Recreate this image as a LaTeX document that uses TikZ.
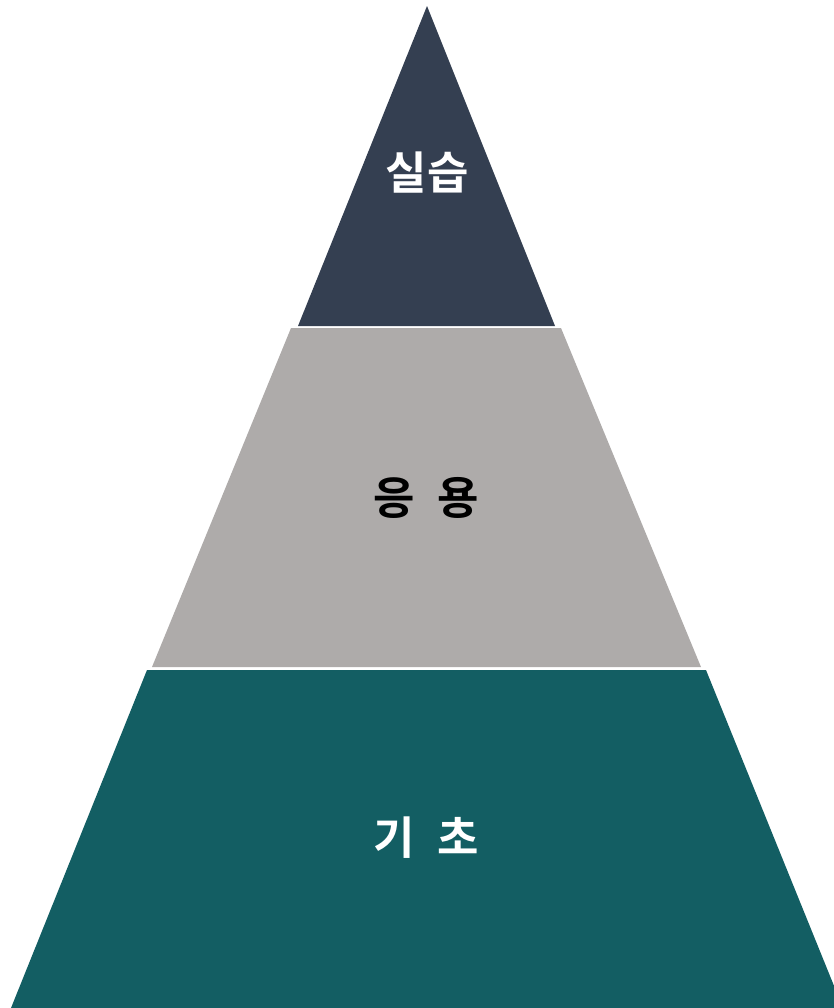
\documentclass[tikz,border=0pt]{standalone}
\usepackage{fontspec}
\newfontfamily\kofont{Noto Sans CJK KR}[BoldFont={* Bold}]
\usepackage{tikz}
\usetikzlibrary{calc}
\definecolor{topnavy}{HTML}{343F51}
\definecolor{midgray}{HTML}{AEABAA}
\definecolor{baseteal}{HTML}{135E63}
\tikzset{
    tier/.style = {draw = none},
    tierlabel/.style = {font = \kofont\bfseries\fontsize{32}{38}\selectfont, inner sep = 0pt}
}

\begin{document}
\begin{tikzpicture}[x=0.025cm, y=-0.025cm]
            \useasboundingbox (0,0) rectangle (834,1008);
            \clip (0,0) rectangle (834,1008);

            \fill[tier, baseteal] (147,670) -- (706,670) -- (843,1008) -- (11,1008) -- cycle;
            \fill[tier, midgray] (291,328) -- (561,328) -- (701,667) -- (152,667) -- cycle;
            \fill[tier, topnavy] (427,6) -- (555,326) -- (298,326) -- cycle;

            \node[tierlabel, text = white] (practice) at (427,173) {실습};
            \node[tierlabel, text = black] (applied) at (426,498) {응\hspace{0.5em}용};
            \node[tierlabel, text = white] (basics) at (426,838) {기\hspace{0.5em}초};
          \end{tikzpicture}
\end{document}
